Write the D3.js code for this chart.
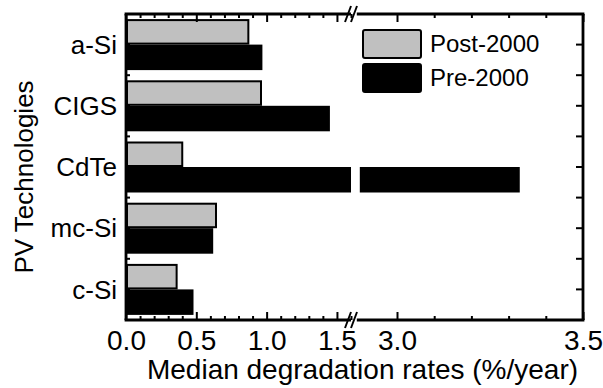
<!DOCTYPE html>
<html>
<head>
<meta charset="utf-8">
<script src="https://cdn.jsdelivr.net/npm/d3@7"></script>
<style>
  body { margin: 0; background: #fff; }
  text { font-family: Arial, "Liberation Sans", sans-serif; fill: #000; }
</style>
</head>
<body>
<div id="viz-container"></div>
<script>
// data
let categories = ['a-Si', 'CIGS', 'CdTe', 'mc-Si', 'c-Si'];
let seriesNames = ['Post-2000', 'Pre-2000'];
let post2000 = [0.87, 0.96, 0.40, 0.64, 0.36];
let pre2000 = [0.97, 1.45, 3.33, 0.62, 0.48];
let leftTicks = [0.0, 0.5, 1.0, 1.5];
let rightTicks = [3.0, 3.5];

let width = 603, height = 388;
let pLeft = 126, pRight = 583, pTop = 14, pBottom = 320;
let breakL = 351, breakR = 359.8;

let viz = d3.select('#viz-container')
  .append('svg')
  .attr('width', width)
  .attr('height', height);

// two x segments for the broken axis
let xL = d3.scaleLinear().domain([0, 1.6]).range([pLeft, breakL]);
let xR = d3.scaleLinear().domain([2.9, 3.5]).range([breakR, pRight]);

let y = d3.scaleBand().domain(categories).range([pTop, pBottom]);
let ySub = d3.scaleBand().domain(seriesNames).range([0, y.bandwidth()]).paddingOuter(0.2).paddingInner(0);

let barData = [];
categories.forEach(function(c, i){
  barData.push({cat: c, s: 'Post-2000', v: post2000[i]});
  barData.push({cat: c, s: 'Pre-2000', v: pre2000[i]});
});

// bars
barData.forEach(function(d){
  let yy = y(d.cat) + ySub(d.s);
  let h = ySub.bandwidth();
  let isPost = d.s == 'Post-2000';
  let parts = [];
  if (d.v <= 1.6) {
    parts.push([xL(0), xL(d.v)]);
  } else {
    parts.push([xL(0), xL(1.6)]);
    parts.push([xR(2.9), xR(d.v)]);
  }
  parts.forEach(function(p){
    if (isPost) {
      viz.append('rect')
        .attr('x', p[0] + 1).attr('y', yy + 1)
        .attr('width', p[1] - p[0] - 1).attr('height', h - 2)
        .attr('fill', '#c0c0c0').attr('stroke', '#000').attr('stroke-width', 2);
    } else {
      viz.append('rect')
        .attr('x', p[0]).attr('y', yy)
        .attr('width', p[1] - p[0]).attr('height', h)
        .attr('fill', '#000');
    }
  });
});

// x axes (ticks point inward)
let minorL = d3.range(0, 1.65, 0.1).filter(v => leftTicks.every(t => Math.abs(t - v) > 1e-6));
let minorR = [3.1, 3.2, 3.3, 3.4];

function drawX(scale, majors, minors, yPos, dir) {
  let mk = dir == 'bottom' ? d3.axisBottom : d3.axisTop;
  let gMinor = viz.append('g').attr('transform', 'translate(0,' + yPos + ')')
    .call(mk(scale).tickValues(minors).tickSize(-4).tickFormat(''));
  let gMajor = viz.append('g').attr('transform', 'translate(0,' + yPos + ')')
    .call(mk(scale).tickValues(majors).tickSize(-8).tickPadding(10)
      .tickFormat(dir == 'bottom' ? d3.format('.1f') : ''));
  [gMinor, gMajor].forEach(function(g){
    g.select('.domain').remove();
    g.selectAll('line').attr('stroke', '#000').attr('stroke-width', 2);
    g.selectAll('text').attr('font-size', 28).attr('font-family', 'Arial, "Liberation Sans", sans-serif');
  });
}
drawX(xL, leftTicks, minorL, pBottom, 'bottom');
drawX(xR, rightTicks, minorR, pBottom, 'bottom');
drawX(xL, leftTicks, minorL, pTop, 'top');
drawX(xR, rightTicks, minorR, pTop, 'top');

// y ticks at band centres and band edges, both sides
let yTickPos = [];
categories.forEach(function(c){
  yTickPos.push(y(c) + y.bandwidth() / 2);
  if (y(c) > pTop + 1) yTickPos.push(y(c));
});
viz.selectAll('.ytl').data(yTickPos).enter().append('line')
  .attr('x1', pLeft).attr('x2', pLeft + 4)
  .attr('y1', d => d).attr('y2', d => d)
  .attr('stroke', '#000').attr('stroke-width', 2);
viz.selectAll('.ytr').data(yTickPos).enter().append('line')
  .attr('x1', pRight).attr('x2', pRight - 7)
  .attr('y1', d => d).attr('y2', d => d)
  .attr('stroke', '#000').attr('stroke-width', 2);

// frame with break
let fw = 2.8;
viz.append('line').attr('x1', pLeft).attr('x2', pLeft).attr('y1', pTop).attr('y2', pBottom)
  .attr('stroke', '#000').attr('stroke-width', fw);
viz.append('line').attr('x1', pRight).attr('x2', pRight).attr('y1', pTop).attr('y2', pBottom)
  .attr('stroke', '#000').attr('stroke-width', fw);
[pTop, pBottom].forEach(function(yy){
  viz.append('line').attr('x1', pLeft - fw/2).attr('x2', breakL).attr('y1', yy).attr('y2', yy)
    .attr('stroke', '#000').attr('stroke-width', fw);
  viz.append('line').attr('x1', breakR - 3).attr('x2', pRight + fw/2).attr('y1', yy).attr('y2', yy)
    .attr('stroke', '#000').attr('stroke-width', fw);
  [breakL - 3, breakL + 3].forEach(function(xx){
    viz.append('line')
      .attr('x1', xx - 3).attr('y1', yy + 8)
      .attr('x2', xx + 3).attr('y2', yy - 8)
      .attr('stroke', '#000').attr('stroke-width', 2);
  });
});

// category labels
viz.selectAll('.cat').data(categories).enter().append('text')
  .attr('x', pLeft - 9)
  .attr('y', d => y(d) + y.bandwidth() / 2)
  .attr('dy', '0.35em')
  .attr('text-anchor', 'end')
  .attr('font-size', 26)
  .text(d => d);

// axis titles
viz.append('text')
  .attr('x', (pLeft + pRight) / 2 + 8)
  .attr('y', 379)
  .attr('text-anchor', 'middle')
  .attr('font-size', 28)
  .text('Median degradation rates (%/year)');

viz.append('text')
  .attr('transform', 'translate(33,' + ((pTop + pBottom) / 2 + 10) + ') rotate(-90)')
  .attr('text-anchor', 'middle')
  .attr('font-size', 26)
  .text('PV Technologies');

// legend
let legend = viz.append('g').attr('transform', 'translate(362,29)');
seriesNames.forEach(function(s, i){
  let g = legend.append('g').attr('transform', 'translate(0,' + (i * 34) + ')');
  g.append('rect')
    .attr('x', 1).attr('y', 1).attr('width', 58).attr('height', 28).attr('rx', 2)
    .attr('fill', s == 'Post-2000' ? '#c0c0c0' : '#000')
    .attr('stroke', '#000').attr('stroke-width', 2);
  g.append('text')
    .attr('x', 68).attr('y', 15).attr('dy', '0.35em')
    .attr('font-size', 24)
    .text(s);
});
</script>
</body>
</html>
